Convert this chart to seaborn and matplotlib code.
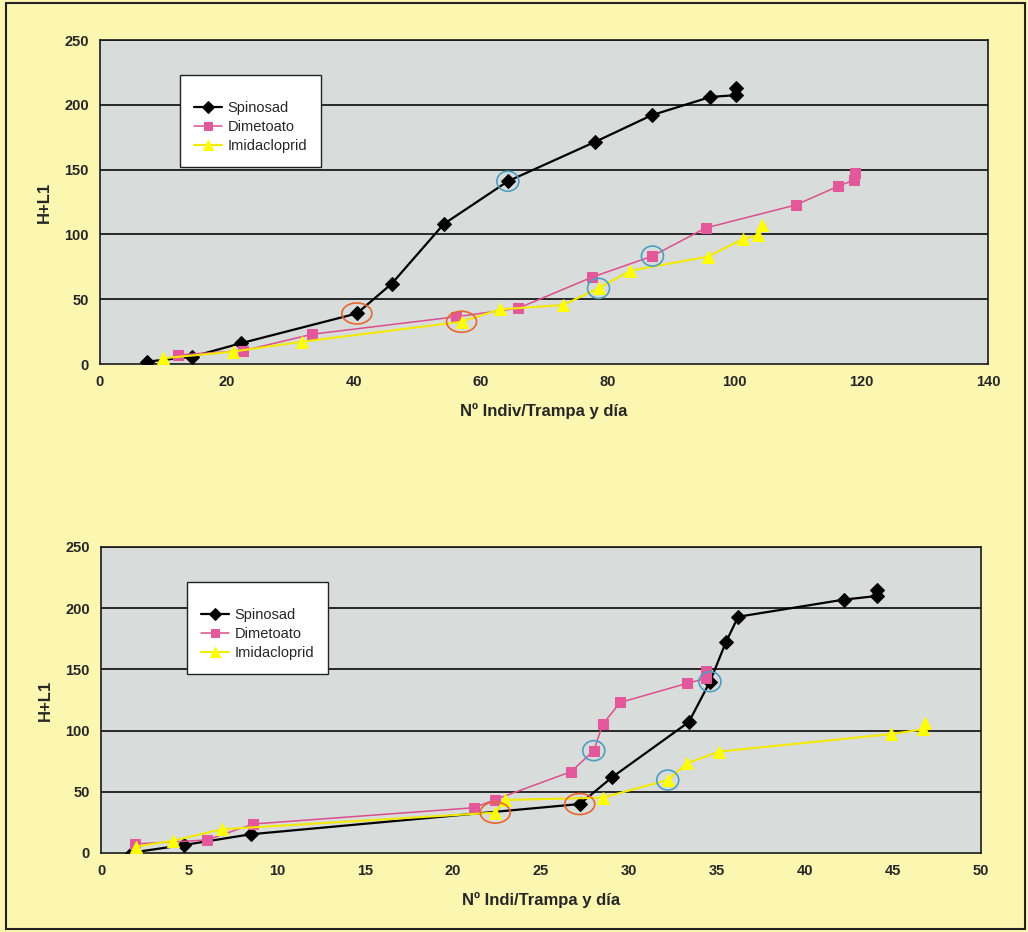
import numpy as np
import pandas as pd
import matplotlib
matplotlib.use("Agg")
import matplotlib.pyplot as plt
import seaborn as sns
from matplotlib.patches import Ellipse, Rectangle

# ---- data ----
top_spinosad_x = [7.4, 14.5, 22.2, 40.5, 46.0, 54.2, 64.3, 78.1, 87.0, 96.2, 100.3, 100.3]
top_spinosad_y = [1.8, 5.6, 16.0, 39.0, 62.0, 108.0, 141.0, 171.5, 192.0, 206.0, 207.5, 212.7]
top_dimetoato_x = [12.3, 22.6, 33.5, 56.2, 65.9, 77.6, 87.1, 95.5, 109.7, 116.3, 118.9, 119.0]
top_dimetoato_y = [7.0, 10.3, 23.0, 36.5, 43.0, 67.0, 83.3, 105.0, 122.7, 137.0, 142.0, 147.0]
top_imida_x = [9.9, 20.9, 31.9, 57.0, 63.1, 73.0, 78.6, 83.6, 95.8, 101.3, 103.8, 104.3]
top_imida_y = [4.4, 9.5, 17.2, 32.6, 42.2, 45.5, 58.4, 72.0, 82.8, 96.2, 99.5, 107.0]

bot_spinosad_x = [1.74, 4.7, 8.5, 27.2, 29.05, 33.4, 34.6, 35.5, 36.2, 42.2, 44.1, 44.1]
bot_spinosad_y = [0.3, 6.5, 15.3, 40.0, 62.0, 107.0, 140.0, 172.0, 193.0, 207.0, 210.0, 215.0]
bot_dimetoato_x = [1.93, 6.0, 8.66, 21.2, 22.4, 26.7, 28.0, 28.5, 29.5, 33.3, 34.4, 34.4]
bot_dimetoato_y = [7.4, 10.6, 23.7, 37.0, 43.7, 66.4, 83.6, 105.0, 123.0, 138.6, 142.7, 148.7]
bot_imida_x = [1.97, 4.1, 6.86, 22.4, 22.95, 28.5, 32.2, 33.3, 35.1, 44.9, 46.7, 46.8]
bot_imida_y = [5.2, 10.0, 19.4, 33.0, 43.3, 45.2, 59.6, 73.3, 82.8, 97.2, 101.0, 106.4]

# circled points: (series, index in that series)
top_red = [("Spinosad", 3), ("Imidacloprid", 3)]
top_blue = [("Spinosad", 6), ("Dimetoato", 6), ("Imidacloprid", 6)]
bot_red = [("Imidacloprid", 3), ("Spinosad", 3)]
bot_blue = [("Dimetoato", 6), ("Imidacloprid", 6), ("Spinosad", 6)]

series_names = ["Spinosad", "Dimetoato", "Imidacloprid"]
y_ticks = [0, 50, 100, 150, 200, 250]

styles = {
    "Spinosad": dict(color="black", marker="D", mfc="black", ms=7, lw=1.6),
    "Dimetoato": dict(color="#dd4f8c", marker="s", mfc="#e2589a", ms=7, lw=1.1),
    "Imidacloprid": dict(color="#f2ea00", marker="^", mfc="#ffff00", ms=9, lw=1.5),
}


def build_frame(sx, sy, dx, dy, ix, iy):
    parts = []
    for name, xs, ys in [("Spinosad", sx, sy), ("Dimetoato", dx, dy), ("Imidacloprid", ix, iy)]:
        parts.append(pd.DataFrame({"x": xs, "y": ys, "serie": name}))
    return pd.concat(parts, ignore_index=True)


def ring(ax, x, y, w_px, h_px, color):
    # ellipse of fixed pixel size around a data point
    bb = ax.get_window_extent()
    x0, x1 = ax.get_xlim()
    y0, y1 = ax.get_ylim()
    w = w_px * (x1 - x0) / bb.width
    h = h_px * (y1 - y0) / bb.height
    ax.add_patch(Ellipse((x, y), w, h, fill=False, ec=color, lw=1.2, zorder=5))


def draw_panel(ax, df, xmax, xstep, xlabel, reds, blues, legend_pos):
    ax.set_facecolor("#d8dcdb")
    for yt in y_ticks[1:]:
        ax.axhline(yt, color="#1a1a1a", lw=1.3, zorder=1)
    for name in series_names:
        sub = df[df["serie"] == name]
        st = styles[name]
        sns.lineplot(data=sub, x="x", y="y", sort=False, estimator=None, ax=ax,
                     color=st["color"], lw=st["lw"], marker=st["marker"],
                     markerfacecolor=st["mfc"], markeredgecolor=st["mfc"],
                     markersize=st["ms"], label=name, zorder=3)
    ax.set_xlim(0, xmax)
    ax.set_ylim(0, 250)
    ax.set_xticks(np.arange(0, xmax + 0.1, xstep))
    ax.set_yticks(y_ticks)
    ax.set_xlabel(xlabel, fontsize=12, fontweight="bold", labelpad=10)
    ax.set_ylabel("H+L1", fontsize=12, fontweight="bold", labelpad=9)
    ax.tick_params(direction="out", length=4, width=1, labelsize=10.5, pad=4)
    for lab in ax.get_xticklabels() + ax.get_yticklabels():
        lab.set_fontweight("bold")
    for sp in ax.spines.values():
        sp.set_color("#1a1a1a")
        sp.set_linewidth(1.2)
    ax.grid(False)

    for name, i in reds:
        sub = df[df["serie"] == name].reset_index(drop=True)
        ring(ax, sub.loc[i, "x"], sub.loc[i, "y"], 30, 21, "#e8672e")
    for name, i in blues:
        sub = df[df["serie"] == name].reset_index(drop=True)
        ring(ax, sub.loc[i, "x"], sub.loc[i, "y"], 22, 20, "#4d9fc0")

    leg = ax.legend(loc="upper left", bbox_to_anchor=legend_pos, frameon=True,
                    fancybox=False, framealpha=1, edgecolor="#222222",
                    fontsize=10.5, handlelength=1.95, borderpad=0.95,
                    borderaxespad=0, labelspacing=0.35, handletextpad=0.35,
                    markerscale=0.85, title=" ", title_fontsize=5)
    leg.get_frame().set_linewidth(1.0)


sns.set_style("white")
plt.rcParams["font.family"] = ["Liberation Sans", "DejaVu Sans"]

fig = plt.figure(figsize=(10.28, 9.32), dpi=100)
fig.patch.set_facecolor("#fbf6b0")
fig.patches.append(Rectangle((6 / 1028, 3 / 932), 1019 / 1028, 926 / 932,
                             transform=fig.transFigure, fill=False,
                             ec="#222222", lw=1.5))

ax1 = fig.add_axes([100 / 1028, 1 - 364 / 932, 888 / 1028, 324 / 932])
ax2 = fig.add_axes([101 / 1028, 1 - 853 / 932, 880 / 1028, 306 / 932])

df_top = build_frame(top_spinosad_x, top_spinosad_y, top_dimetoato_x, top_dimetoato_y,
                     top_imida_x, top_imida_y)
df_bot = build_frame(bot_spinosad_x, bot_spinosad_y, bot_dimetoato_x, bot_dimetoato_y,
                     bot_imida_x, bot_imida_y)

draw_panel(ax1, df_top, 140, 20, "Nº Indiv/Trampa y día", top_red, top_blue,
           (80 / 888, 1 - 35 / 324))
draw_panel(ax2, df_bot, 50, 5, "Nº Indi/Trampa y día", bot_red, bot_blue,
           (86 / 880, 1 - 35 / 306))

fig.savefig("out.png", dpi=100, facecolor=fig.get_facecolor())
